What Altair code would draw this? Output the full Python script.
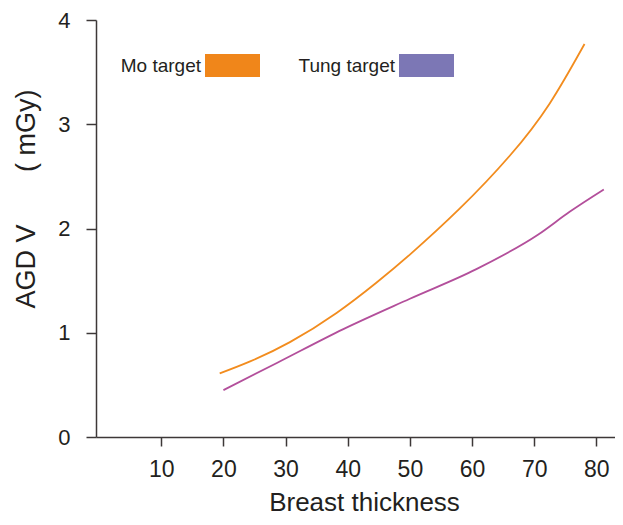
import altair as alt
import pandas as pd

# --- data ---
mo_x = [19.4, 24.3, 30.7, 38.2, 44.6, 50.0, 58.0, 66.1, 72.5, 78.1]
mo_y = [0.61, 0.725, 0.91, 1.19, 1.48, 1.75, 2.19, 2.70, 3.20, 3.77]
tung_x = [20.0, 28.6, 39.3, 50.0, 60.7, 70.6, 75.7, 81.2]
tung_y = [0.45, 0.71, 1.035, 1.326, 1.61, 1.94, 2.16, 2.374]
series = ["Mo target", "Tung target"]
line_colors = ["#F28C1E", "#B34F9B"]
swatch_colors = ["#F0861A", "#7C77B5"]
x_ticks = [10, 20, 30, 40, 50, 60, 70, 80]
y_ticks = [0, 1, 2, 3, 4]

FONT = "Liberation Sans, Arial, sans-serif"
TXT = "#231F20"
AX = "#3D3838"

mo = pd.DataFrame({"t": mo_x, "d": mo_y, "s": series[0]})
tung = pd.DataFrame({"t": tung_x, "d": tung_y, "s": series[1]})

x_enc = alt.X("t:Q", scale=alt.Scale(domain=[-0.5, 83], nice=False, zero=False),
              axis=alt.Axis(values=x_ticks, format="d", title="Breast thickness", grid=False,
                            domainColor=AX, domainWidth=1.5, tickColor=AX, tickWidth=1.5,
                            tickSize=9, labelFontSize=23, labelColor=TXT, labelFont=FONT,
                            labelPadding=12, titleFont=FONT, titleFontSize=26,
                            titleFontWeight="normal", titleColor=TXT,
                            titleX=268, titleY=73, titleBaseline="alphabetic",
                            titleAlign="center"))
y_enc = alt.Y("d:Q", scale=alt.Scale(domain=[0, 4], nice=False),
              axis=alt.Axis(values=y_ticks, format="d", grid=False,
                            title="AGD V" + "\u00a0" * 7 + "( mGy)",
                            domainColor=AX, domainWidth=1.5, tickColor=AX, tickWidth=1.5,
                            tickSize=10, labelFontSize=22, labelColor=TXT, labelFont=FONT,
                            labelPadding=16, titleFont=FONT, titleFontSize=27,
                            titleFontWeight="normal", titleColor=TXT,
                            titleAngle=270, titleX=-62, titleY=178.5,
                            titleBaseline="alphabetic", titleAlign="center"))

color = alt.Color("s:N", scale=alt.Scale(domain=series, range=line_colors), legend=None)
mo_line = alt.Chart(mo).mark_line(interpolate="natural", strokeWidth=1.8).encode(
    x=x_enc, y=y_enc, color=color)
tung_line = alt.Chart(tung).mark_line(interpolate="monotone", strokeWidth=1.8).encode(
    x=x_enc, y=y_enc, color=color)

# custom legend: label to the left of a rectangular swatch
leg = pd.DataFrame({"label": series, "c": swatch_colors})
legend_layers = []
text_right = [105, 299]
swatch_left = [109, 303]
for i in range(2):
    one = leg.iloc[[i]]
    legend_layers.append(
        alt.Chart(one).mark_text(align="right", baseline="alphabetic", font=FONT,
                                 fontSize=19, color=TXT).encode(
            x=alt.value(text_right[i]), y=alt.value(51.5), text="label:N"))
    legend_layers.append(
        alt.Chart(one).mark_rect().encode(
            x=alt.value(swatch_left[i]), x2=alt.value(swatch_left[i] + 55),
            y=alt.value(34), y2=alt.value(57),
            color=alt.Color("c:N", scale=None)))

chart = alt.layer(mo_line, tung_line, *legend_layers).properties(
    width=519, height=417,
    autosize=alt.AutoSizeParams(type="none"),
    padding={"left": 88, "top": 12, "right": 0, "bottom": 80},
    background="white",
).configure_view(stroke=None)

chart.save("out.html", embed_options={"renderer": "svg", "actions": False})
